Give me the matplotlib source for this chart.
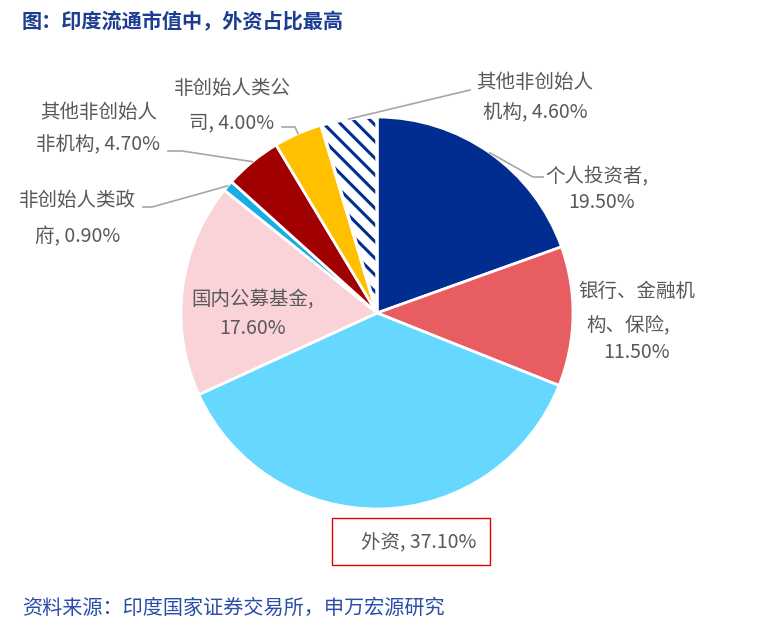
import matplotlib
matplotlib.use("Agg")
import matplotlib.pyplot as plt
from matplotlib.patches import Wedge, Rectangle
import numpy as np

plt.rcParams['font.family'] = ['Noto Sans CJK SC', 'DejaVu Sans']
plt.rcParams['hatch.linewidth'] = 2.2

# data (clockwise from 12 o'clock)
categories = ["个人投资者", "银行、金融机构、保险", "外资", "国内公募基金",
              "非创始人类政府", "其他非创始人非机构", "非创始人类公司", "其他非创始人机构"]
shares = [19.5, 11.5, 37.1, 17.6, 0.9, 4.7, 4.0, 4.6]
colors = ["#002D8F", "#E85D62", "#66D8FF", "#F9D3D8",
          "#1AADE4", "#A00000", "#FFC000", "white"]

title = "图：印度流通市值中，外资占比最高"
source = "资料来源：印度国家证券交易所，申万宏源研究"

W, H = 761, 638
def Y(y):
    return H - y

fig = plt.figure(figsize=(W / 100, H / 100), dpi=100)
ax = fig.add_axes([0, 0, 1, 1])

cx, cy, R = 377, 313, 196
wedges, _ = ax.pie(shares, colors=colors, startangle=90, counterclock=False,
                   center=(cx, Y(cy)), radius=R,
                   wedgeprops=dict(edgecolor="white", linewidth=2))

# hatched slice
hw = wedges[-1]
hw.set_edgecolor("#002D8F")
hw.set_linewidth(0)
hw.set_hatch("\\\\")
ax.add_patch(Wedge(hw.center, hw.r, hw.theta1, hw.theta2, fill=False,
                   edgecolor="white", linewidth=2.5, zorder=hw.get_zorder() + 0.1))

ax.set_xlim(0, W)
ax.set_ylim(0, H)
ax.axis("off")

gray = "#595959"
fs = 14
# label lines: (text, x, y, ha)
label_lines = [
    [("个人投资者,", 545, 177, "left"), ("19.50%", 602, 203, "center")],
    [("银行、金融机", 637, 291, "center"), ("构、保险,", 628, 325, "center"),
     ("11.50%", 637, 352, "center")],
    [("外资, 37.10%", 419, 543, "center")],
    [("国内公募基金,", 253, 300, "center"), ("17.60%", 253, 328, "center")],
    [("非创始人类政", 77, 201, "center"), ("府, 0.90%", 78, 237, "center")],
    [("其他非创始人", 99, 112, "center"), ("非机构, 4.70%", 98, 145, "center")],
    [("非创始人类公", 232, 88, "center"), ("司, 4.00%", 232, 123, "center")],
    [("其他非创始人", 535, 82, "center"), ("机构, 4.60%", 535, 113, "center")],
]
for lines in label_lines:
    for txt, x, y, ha in lines:
        ax.text(x, Y(y), txt, fontsize=fs, color=gray, ha=ha, va="center")

# leader lines from slice edge to label
leaders = {
    0: [(533, 177), (543, 177)],
    4: [(152, 207), (143, 207)],
    5: [(182, 151), (168, 151)],
    6: [(295, 127), (282, 127)],
    7: [(470, 90)],
}
for i, pts in leaders.items():
    w = wedges[i]
    mid = np.deg2rad((w.theta1 + w.theta2) / 2)
    ax0 = cx + R * np.cos(mid)
    ay0 = Y(cy) + R * np.sin(mid)
    xs = [ax0] + [p[0] for p in pts]
    ys = [ay0] + [Y(p[1]) for p in pts]
    ax.plot(xs, ys, color="#A6A6A6", lw=1.2, zorder=5)

# box around 外资 label
ax.add_patch(Rectangle((332, Y(565)), 158, 47, fill=False,
                       edgecolor="#E00000", lw=1))

ax.text(22, Y(22), title, fontsize=14.5, fontweight="bold", color="#1C3D92",
        ha="left", va="center")
ax.text(22, Y(608), source, fontsize=14.5, color="#2A4DA6",
        ha="left", va="center")

fig.savefig("out.png", dpi=100)
